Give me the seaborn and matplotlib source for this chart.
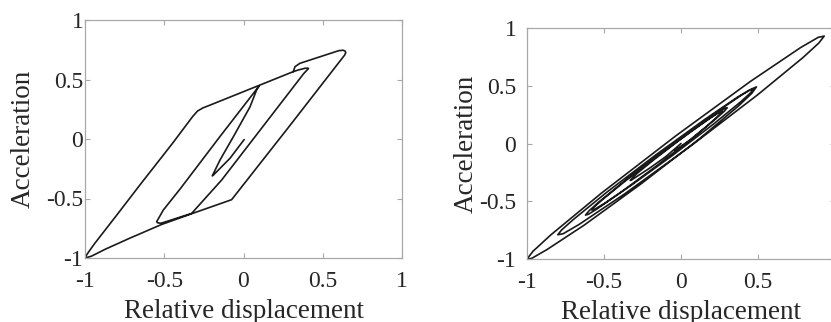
import matplotlib
matplotlib.use("Agg")
import matplotlib.pyplot as plt
import seaborn as sns
import pandas as pd

# ---------------- data ----------------
# Left panel: hysteresis loop (relative displacement vs acceleration)
left_disp = [0.004, -0.085, -0.19, -0.197, -0.148, -0.064, 0.041, 0.085, 0.100,
             -0.15, -0.40, -0.506, -0.535, -0.548, -0.54, -0.52, -0.443, -0.327,
             -0.138, 0.38, 0.405, 0.410, 0.390, 0.346, 0.314, 0.325, 0.356,
             0.600, 0.628, 0.642, 0.645, 0.638, 0.285, -0.075,
             -0.31, -0.52, -0.72, -0.87, -0.96, -1.0,
             -0.99, -0.975, -0.94, -0.80, -0.65, -0.45, -0.32, -0.29, -0.255,
             -0.22, 0.314]
left_acc = [-0.005, -0.162, -0.303, -0.310, -0.176, 0.019, 0.270, 0.420, 0.448,
            0.018, -0.420, -0.597, -0.665, -0.695, -0.705, -0.708, -0.675, -0.625,
            -0.345, 0.550, 0.585, 0.594, 0.595, 0.580, 0.566, 0.608, 0.636,
            0.742, 0.746, 0.738, 0.725, 0.705, 0.100, -0.510,
            -0.620, -0.720, -0.835, -0.925, -0.985, -1.0,
            -0.975, -0.945, -0.880, -0.640, -0.380, -0.040, 0.190, 0.235, 0.262,
            0.280, 0.566]

# Right panel: narrow elliptical loops
right_disp = [
    0.0, -0.10, -0.20, -0.28, -0.32, -0.33,
    -0.317, -0.280, -0.173, -0.015, 0.143, 0.250, 0.287, 0.30,
    0.282, 0.226, 0.070, -0.160, -0.390, -0.546, -0.602, -0.62,
    -0.598, -0.531, -0.343, -0.065, 0.213, 0.391, 0.458, 0.49,
    0.460, 0.371, 0.118, -0.255, -0.628, -0.871, -0.970, -1.0,
    -0.961, -0.846, -0.518, -0.035, 0.448, 0.776, 0.891, 0.93,
    0.895, 0.792, 0.498, 0.065, -0.368, -0.662, -0.765, -0.80,
    -0.775, -0.698, -0.483, -0.165, 0.153, 0.368, 0.445, 0.47,
    0.449, 0.386, 0.208, -0.055, -0.318, -0.496, -0.559, -0.58,
    -0.563, -0.512, -0.368, -0.155, 0.058, 0.202, 0.253, 0.27,
    0.256, 0.225, 0.160, 0.060, -0.040]
right_acc = [
    0.0, -0.115, -0.210, -0.280, -0.315, -0.32,
    -0.299, -0.253, -0.137, 0.025, 0.179, 0.276, 0.306, 0.31,
    0.280, 0.214, 0.043, -0.195, -0.422, -0.567, -0.613, -0.62,
    -0.584, -0.504, -0.299, -0.015, 0.256, 0.418, 0.472, 0.49,
    0.435, 0.322, 0.039, -0.345, -0.706, -0.919, -0.995, -1.0,
    -0.933, -0.792, -0.431, 0.065, 0.535, 0.830, 0.919, 0.93,
    0.870, 0.744, 0.422, -0.020, -0.438, -0.701, -0.781, -0.79,
    -0.748, -0.657, -0.423, -0.100, 0.207, 0.402, 0.462, 0.47,
    0.435, 0.359, 0.165, -0.103, -0.357, -0.518, -0.568, -0.575,
    -0.548, -0.488, -0.331, -0.113, 0.097, 0.231, 0.273, 0.28,
    0.260, 0.218, 0.140, 0.030, -0.060]

left_xticks = [-1, -0.5, 0, 0.5, 1]
left_xticklabels = ["-1", "-0.5", "0", "0.5", "1"]
right_xticks = [-1, -0.5, 0, 0.5]
right_xticklabels = ["-1", "-0.5", "0", "0.5"]
yticks = [-1, -0.5, 0, 0.5, 1]
yticklabels = ["-1", "-0.5", "0", "0.5", "1"]

xlabel = "Relative displacement"
ylabel = "Acceleration"

# ---------------- style ----------------
sns.set_theme(style="white")
plt.rcParams["font.family"] = ["Liberation Serif", "DejaVu Serif"]
plt.rcParams["axes.unicode_minus"] = False

spine_col = "#a8a8a8"
text_col = "#262626"
line_col = "#1a1a1a"

fig = plt.figure(figsize=(8.31, 3.22), dpi=100)
axL = fig.add_axes([85 / 831, (322 - 258) / 322, 317 / 831, 238 / 322])
axR = fig.add_axes([527 / 831, (322 - 259) / 322, 308 / 831, 231 / 322])

dfL = pd.DataFrame({"x": left_disp, "y": left_acc})
dfR = pd.DataFrame({"x": right_disp, "y": right_acc})

sns.lineplot(data=dfL, x="x", y="y", sort=False, estimator=None,
             color=line_col, linewidth=1.2, ax=axL)
sns.lineplot(data=dfR, x="x", y="y", sort=False, estimator=None,
             color=line_col, linewidth=1.2, ax=axR)


def style(ax, xt, xtl, ypad, labelpad_y):
    ax.set_xlim(-1, 1)
    ax.set_ylim(-1, 1)
    ax.set_xticks(xt)
    ax.set_xticklabels(xtl)
    ax.set_yticks(yticks)
    ax.set_yticklabels(yticklabels)
    for s in ax.spines.values():
        s.set_color(spine_col)
        s.set_linewidth(0.9)
        s.set_visible(True)
    ax.tick_params(axis="both", which="both", direction="in", length=3.5,
                   width=0.8, color=spine_col, labelcolor=text_col,
                   labelsize=17, top=True, right=True, bottom=True, left=True)
    ax.tick_params(axis="x", pad=9.5)
    ax.tick_params(axis="y", pad=ypad)
    ax.set_xlabel(xlabel, fontsize=19.5, color=text_col, labelpad=5)
    ax.set_ylabel(ylabel, fontsize=19.5, color=text_col, labelpad=labelpad_y)
    ax.grid(False)


style(axL, left_xticks, left_xticklabels, 1.2, 7.5)
style(axR, right_xticks, right_xticklabels, 7.7, 0.5)

fig.savefig("out.png", dpi=100)
